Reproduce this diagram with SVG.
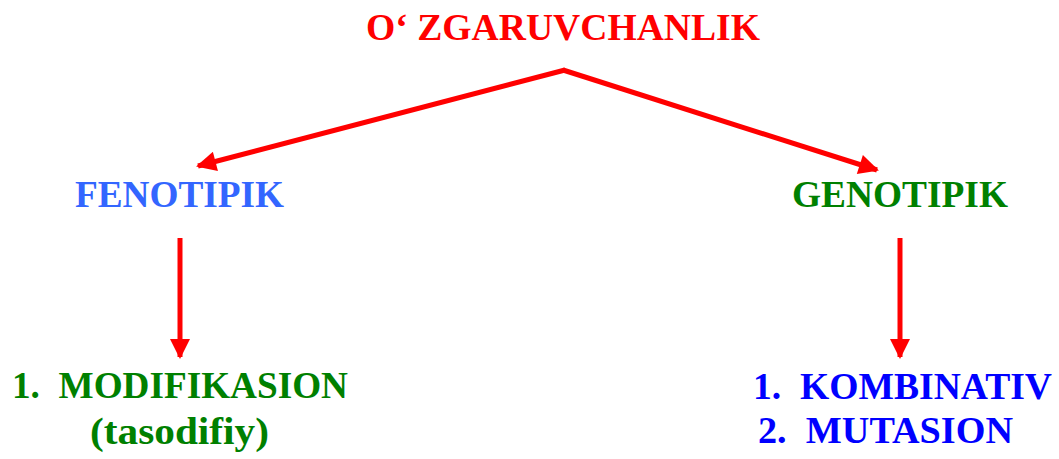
<svg xmlns="http://www.w3.org/2000/svg" width="1059" height="459" viewBox="0 0 1059 459">
  <style>
    text { font-family: "Liberation Serif", "DejaVu Serif", serif; font-weight: bold; font-size: 38px; }
    .conn { stroke: #ff0000; stroke-width: 5; fill: none; }
    .red { fill: #ff0000; }
    .lblue { fill: #3366ff; }
    .green { fill: #008000; }
    .blue { fill: #0000ff; }
  </style>
  <defs>
    <marker id="head" viewBox="0 0 10 10" refX="9" refY="5" markerWidth="4.4" markerHeight="4" orient="auto" markerUnits="strokeWidth">
      <path d="M0,0 L10,5 L0,10 Z" fill="#ff0000"/>
    </marker>
  </defs>

  <g id="connectors">
    <path class="conn" d="M565,70 L198,166" marker-end="url(#head)"/>
    <path class="conn" d="M563,70 L877,170" marker-end="url(#head)"/>
    <path class="conn" d="M180,238 L180,357" marker-end="url(#head)"/>
    <path class="conn" d="M900,238 L900,357" marker-end="url(#head)"/>
  </g>

  <g id="root">
    <text class="red" x="366" y="40" textLength="394" lengthAdjust="spacingAndGlyphs">O‘&#160;ZGARUVCHANLIK</text>
  </g>
  <g id="fenotipik">
    <text class="lblue" x="75" y="207" textLength="209" lengthAdjust="spacingAndGlyphs">FENOTIPIK</text>
  </g>
  <g id="genotipik">
    <text class="green" x="792" y="207" textLength="216" lengthAdjust="spacingAndGlyphs">GENOTIPIK</text>
  </g>
  <g id="modifikasion">
    <text class="green" x="12" y="398" textLength="336" lengthAdjust="spacingAndGlyphs">1.&#160; MODIFIKASION</text>
    <text class="green" x="90" y="444" textLength="179" lengthAdjust="spacingAndGlyphs">(tasodifiy)</text>
  </g>
  <g id="genotipik-types">
    <text class="blue" x="753" y="399" textLength="299" lengthAdjust="spacingAndGlyphs">1.&#160; KOMBINATIV</text>
    <text class="blue" x="758" y="443" textLength="255" lengthAdjust="spacingAndGlyphs">2.&#160; MUTASION</text>
  </g>
</svg>
